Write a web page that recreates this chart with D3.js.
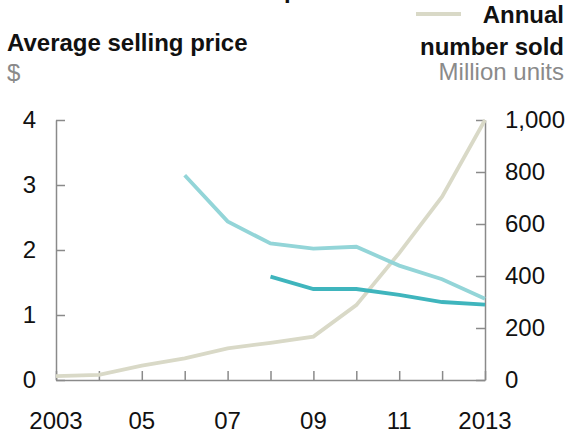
<!DOCTYPE html>
<html>
<head>
<meta charset="utf-8">
<script src="https://cdn.jsdelivr.net/npm/d3@7"></script>
<style>
  html, body { margin: 0; padding: 0; background: #fff; }
  svg { display: block; font-family: "Liberation Sans", Arial, sans-serif; }
</style>
</head>
<body>
<svg id="chart" width="569" height="434"></svg>
<script>
// Years on the x axis
const years = [2003, 2004, 2005, 2006, 2007, 2008, 2009, 2010, 2011, 2012, 2013];
const yearTicks = [2003, 2005, 2007, 2009, 2011, 2013];
const yearTickLabels = ["2003", "05", "07", "09", "11", "2013"];

// Average selling price, $ (left axis)
const priceHighYears = [2006, 2007, 2008, 2009, 2010, 2011, 2012, 2013];
const priceHigh = [3.15, 2.44, 2.10, 2.02, 2.05, 1.76, 1.55, 1.25];
const priceLowYears = [2008, 2009, 2010, 2011, 2012, 2013];
const priceLow = [1.59, 1.40, 1.40, 1.31, 1.20, 1.16];

// Annual number sold, million units (right axis)
const unitsSold = [15, 20, 55, 83, 122, 143, 167, 288, 488, 705, 1000];

const leftTicks = [0, 1, 2, 3, 4];
const rightTicks = [0, 200, 400, 600, 800, 1000];

const svg = d3.select("#chart");
const plotLeft = 56, plotRight = 485, plotTop = 120, plotBottom = 380;

const x = d3.scaleLinear().domain([2003, 2013]).range([plotLeft, plotRight]);
const yL = d3.scaleLinear().domain([0, 4]).range([plotBottom, plotTop]);
const yR = d3.scaleLinear().domain([0, 1000]).range([plotBottom, plotTop]);

const axisColor = "#8a8a8a";
const fs = 24;

// Axes
const gx = svg.append("g").attr("transform", `translate(0,${plotBottom})`)
  .call(d3.axisBottom(x).tickValues(years).tickSize(-9).tickSizeOuter(0).tickFormat(""));
const gl = svg.append("g").attr("transform", `translate(${plotLeft},0)`)
  .call(d3.axisLeft(yL).tickValues(leftTicks).tickSize(-9).tickSizeOuter(0).tickFormat(""));
const gr = svg.append("g").attr("transform", `translate(${plotRight},0)`)
  .call(d3.axisRight(yR).tickValues(rightTicks).tickSize(-9).tickSizeOuter(0).tickFormat(""));
[gx, gl, gr].forEach(g => {
  g.select(".domain").attr("stroke", axisColor).attr("stroke-width", 1.5);
  g.selectAll(".tick line").attr("stroke", axisColor).attr("stroke-width", 1.5);
});

// Tick labels
svg.append("g").selectAll("text").data(leftTicks).join("text")
  .attr("x", 36).attr("y", d => yL(d) + 8)
  .attr("text-anchor", "end").attr("font-size", fs).attr("fill", "#111")
  .text(d => d);
svg.append("g").selectAll("text").data(rightTicks).join("text")
  .attr("x", 505).attr("y", d => yR(d) + 8)
  .attr("text-anchor", "start").attr("font-size", fs).attr("fill", "#111")
  .text(d => d3.format(",")(d));
svg.append("g").selectAll("text").data(yearTicks).join("text")
  .attr("x", d => x(d)).attr("y", 429)
  .attr("text-anchor", "middle").attr("font-size", fs).attr("fill", "#111")
  .text((d, i) => yearTickLabels[i]);

// Lines
const line = (xs, scale) => d3.line().x((d, i) => x(xs[i])).y(d => scale(d));

svg.append("path").datum(unitsSold)
  .attr("d", line(years, yR))
  .attr("fill", "none").attr("stroke", "#d9d9c7").attr("stroke-width", 3.8);
svg.append("path").datum(priceHigh)
  .attr("d", line(priceHighYears, yL))
  .attr("fill", "none").attr("stroke", "#93d5d8").attr("stroke-width", 3.8);
svg.append("path").datum(priceLow)
  .attr("d", line(priceLowYears, yL))
  .attr("fill", "none").attr("stroke", "#3fb5bd").attr("stroke-width", 3.8);

// Titles
svg.append("text").attr("x", 284).attr("y", -2)
  .attr("font-size", fs).attr("font-weight", "bold").attr("fill", "#111").text("p");

svg.append("text").attr("x", 7).attr("y", 51)
  .attr("font-size", fs).attr("font-weight", "bold").attr("fill", "#111")
  .text("Average selling price");
svg.append("text").attr("x", 7).attr("y", 81)
  .attr("font-size", fs).attr("fill", "#8a8a8a").text("$");

// Legend for units sold
svg.append("line").attr("x1", 416).attr("x2", 461).attr("y1", 14).attr("y2", 14)
  .attr("stroke", "#d9d9c7").attr("stroke-width", 4);
svg.append("text").attr("x", 564).attr("y", 23).attr("text-anchor", "end")
  .attr("font-size", fs).attr("font-weight", "bold").attr("fill", "#111").text("Annual");
svg.append("text").attr("x", 564).attr("y", 55).attr("text-anchor", "end")
  .attr("font-size", fs).attr("font-weight", "bold").attr("fill", "#111").text("number sold");
svg.append("text").attr("x", 564).attr("y", 80).attr("text-anchor", "end")
  .attr("font-size", fs).attr("fill", "#8a8a8a").text("Million units");
</script>
</body>
</html>
